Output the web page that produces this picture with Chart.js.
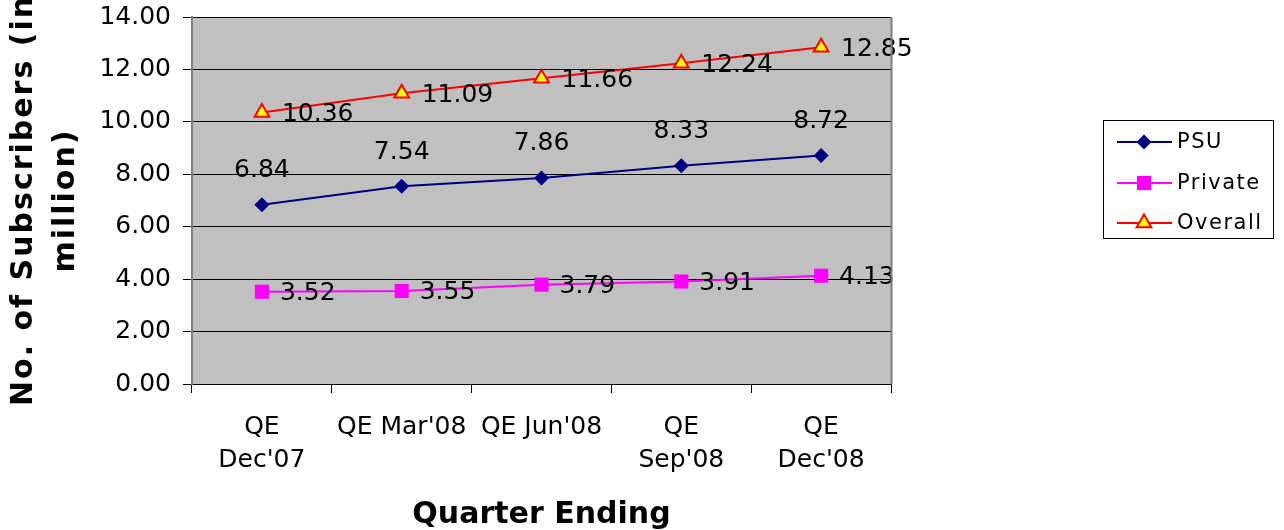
<!DOCTYPE html>
<html>
<head>
<meta charset="utf-8">
<title>Subscribers by Quarter</title>
<script src="https://cdn.jsdelivr.net/npm/chart.js@4/dist/chart.umd.min.js"></script>
<style>
  html, body { margin: 0; padding: 0; background: #ffffff; }
  #wrap { width: 1284px; height: 530px; position: relative; }
</style>
</head>
<body>
<div id="wrap"><canvas id="c"></canvas></div>
<script>
// Quarter labels and subscriber counts (in million)
const quarters = [["QE", "Dec'07"], "QE Mar'08", "QE Jun'08", ["QE", "Sep'08"], ["QE", "Dec'08"]];
const psu = [6.84, 7.54, 7.86, 8.33, 8.72];
const privateOps = [3.52, 3.55, 3.79, 3.91, 4.13];
const overall = [10.36, 11.09, 11.66, 12.24, 12.85];
const seriesNames = ["PSU", "Private", "Overall"];

const yMin = 0, yMax = 14, yStep = 2;
const xTitle = "Quarter Ending";
const yTitleLines = ["No. of Subscribers (in", "million)"];

const FONT = "'DejaVu Sans', Verdana, sans-serif";

// Gray plot background plus the grey frame on the right edge
const plotFrame = {
  id: 'plotFrame',
  beforeDraw(chart) {
    const { ctx, chartArea: a } = chart;
    ctx.save();
    ctx.fillStyle = '#C0C0C0';
    ctx.fillRect(a.left, a.top, a.right - a.left, a.bottom - a.top);
    ctx.restore();
  },
  afterDraw(chart) {
    const { ctx, chartArea: a } = chart;
    ctx.save();
    ctx.strokeStyle = '#808080';
    ctx.lineWidth = 2;
    ctx.beginPath();
    ctx.moveTo(a.right + 0.5, a.top);
    ctx.lineTo(a.right + 0.5, a.bottom);
    ctx.stroke();
    ctx.restore();
  }
};

// Value labels next to each point
const valueLabels = {
  id: 'valueLabels',
  afterDatasetsDraw(chart) {
    const { ctx } = chart;
    ctx.save();
    ctx.font = '25px ' + FONT;
    ctx.fillStyle = '#000000';
    chart.data.datasets.forEach((ds, i) => {
      const meta = chart.getDatasetMeta(i);
      meta.data.forEach((pt, j) => {
        const txt = ds.data[j].toFixed(2);
        if (ds.labelPos === 'above') {
          ctx.textAlign = 'center';
          ctx.textBaseline = 'middle';
          ctx.fillText(txt, pt.x, pt.y - 34);
        } else {
          ctx.textAlign = 'left';
          ctx.textBaseline = 'middle';
          ctx.fillText(txt, pt.x + ds.labelGap, pt.y + 2);
        }
      });
    });
    ctx.restore();
  }
};

function drawMarker(ctx, style, x, y, r, fill, stroke, bw) {
  ctx.save();
  ctx.fillStyle = fill;
  ctx.strokeStyle = stroke;
  ctx.lineWidth = bw;
  ctx.beginPath();
  if (style === 'rectRot') {
    ctx.moveTo(x, y - r); ctx.lineTo(x + r, y); ctx.lineTo(x, y + r); ctx.lineTo(x - r, y);
    ctx.closePath();
  } else if (style === 'rect') {
    const s = r * Math.SQRT1_2;
    ctx.rect(x - s, y - s, 2 * s, 2 * s);
  } else if (style === 'triangle') {
    const h = r * Math.sin(Math.PI / 3);
    ctx.moveTo(x, y - r);
    ctx.lineTo(x + h, y + r / 2);
    ctx.lineTo(x - h, y + r / 2);
    ctx.closePath();
  }
  ctx.fill();
  if (bw > 0) ctx.stroke();
  ctx.restore();
}

// Boxed legend on the right and the two axis titles
const sideItems = {
  id: 'sideItems',
  afterDraw(chart) {
    const { ctx, chartArea: a } = chart;
    ctx.save();
    // legend frame
    ctx.strokeStyle = '#000000';
    ctx.lineWidth = 1;
    ctx.strokeRect(1103.5, 120.5, 170, 118);
    const rows = [142, 183, 223];
    ctx.font = '21px ' + FONT;
    ctx.letterSpacing = '1.5px';
    ctx.textAlign = 'left';
    ctx.textBaseline = 'middle';
    chart.data.datasets.forEach((ds, i) => {
      const y = rows[i];
      ctx.strokeStyle = ds.borderColor;
      ctx.lineWidth = ds.borderWidth;
      ctx.beginPath();
      ctx.moveTo(1117, y);
      ctx.lineTo(1172, y);
      ctx.stroke();
      drawMarker(ctx, ds.pointStyle, 1144, y, ds.pointRadius,
                 ds.pointBackgroundColor, ds.pointBorderColor, ds.pointBorderWidth);
      ctx.fillStyle = '#000000';
      ctx.fillText(ds.label, 1177, y + 1);
    });

    // x-axis title
    ctx.letterSpacing = '0px';
    ctx.font = 'bold 30px ' + FONT;
    ctx.fillStyle = '#000000';
    ctx.textAlign = 'center';
    ctx.textBaseline = 'alphabetic';
    ctx.fillText(xTitle, (a.left + a.right) / 2, 523);

    // y-axis title, rotated
    const cy = (a.top + a.bottom) / 2;
    ctx.translate(0, cy);
    ctx.rotate(-Math.PI / 2);
    ctx.textBaseline = 'middle';
    ctx.letterSpacing = '2px';
    ctx.fillText(yTitleLines[0], 0, 24);
    ctx.fillText(yTitleLines[1], 0, 66);
    ctx.restore();
  }
};

const tickFont = { family: FONT, size: 25, lineHeight: 1.32 };

new Chart(document.getElementById('c'), {
  type: 'line',
  data: {
    labels: quarters,
    datasets: [
      {
        label: seriesNames[0], data: psu,
        borderColor: '#000080', borderWidth: 2,
        pointStyle: 'rectRot', pointRadius: 7.5,
        pointBackgroundColor: '#000080', pointBorderColor: '#000080', pointBorderWidth: 0,
        labelPos: 'above', labelGap: 0
      },
      {
        label: seriesNames[1], data: privateOps,
        borderColor: '#FF00FF', borderWidth: 2,
        pointStyle: 'rect', pointRadius: 10,
        pointBackgroundColor: '#FF00FF', pointBorderColor: '#FF00FF', pointBorderWidth: 0,
        labelPos: 'right', labelGap: 18
      },
      {
        label: seriesNames[2], data: overall,
        borderColor: '#FF0000', borderWidth: 2,
        pointStyle: 'triangle', pointRadius: 8.5,
        pointBackgroundColor: '#FFFF00', pointBorderColor: '#FF0000', pointBorderWidth: 2,
        labelPos: 'right', labelGap: 20
      }
    ]
  },
  options: {
    responsive: true,
    maintainAspectRatio: false,
    animation: false,
    devicePixelRatio: 1,
    layout: { padding: { left: 0, top: 17, right: 393, bottom: 0 } },
    elements: { line: { tension: 0 } },
    plugins: {
      legend: { display: false },
      tooltip: { enabled: false }
    },
    scales: {
      x: {
        type: 'category',
        offset: true,
        afterFit(s) { s.height = 146; s.paddingLeft = 0; s.paddingRight = 0; },
        grid: {
          offset: true, drawOnChartArea: false, drawTicks: true,
          tickLength: 9, tickColor: '#000000', color: '#000000', lineWidth: 1
        },
        border: { display: true, color: '#000000', width: 1 },
        ticks: {
          color: '#000000', font: tickFont, padding: 18,
          maxRotation: 0, minRotation: 0, autoSkip: false
        }
      },
      y: {
        min: yMin, max: yMax,
        afterFit(s) { s.width = 192; s.paddingTop = 0; s.paddingBottom = 0; },
        grid: {
          color: '#000000', lineWidth: 1, drawTicks: true,
          tickLength: 9, tickColor: '#000000'
        },
        border: { display: true, color: '#808080', width: 2 },
        ticks: {
          stepSize: yStep, color: '#000000', padding: 12,
          font: { family: FONT, size: 25 },
          callback: v => Number(v).toFixed(2)
        }
      }
    }
  },
  plugins: [plotFrame, valueLabels, sideItems]
});
</script>
</body>
</html>
